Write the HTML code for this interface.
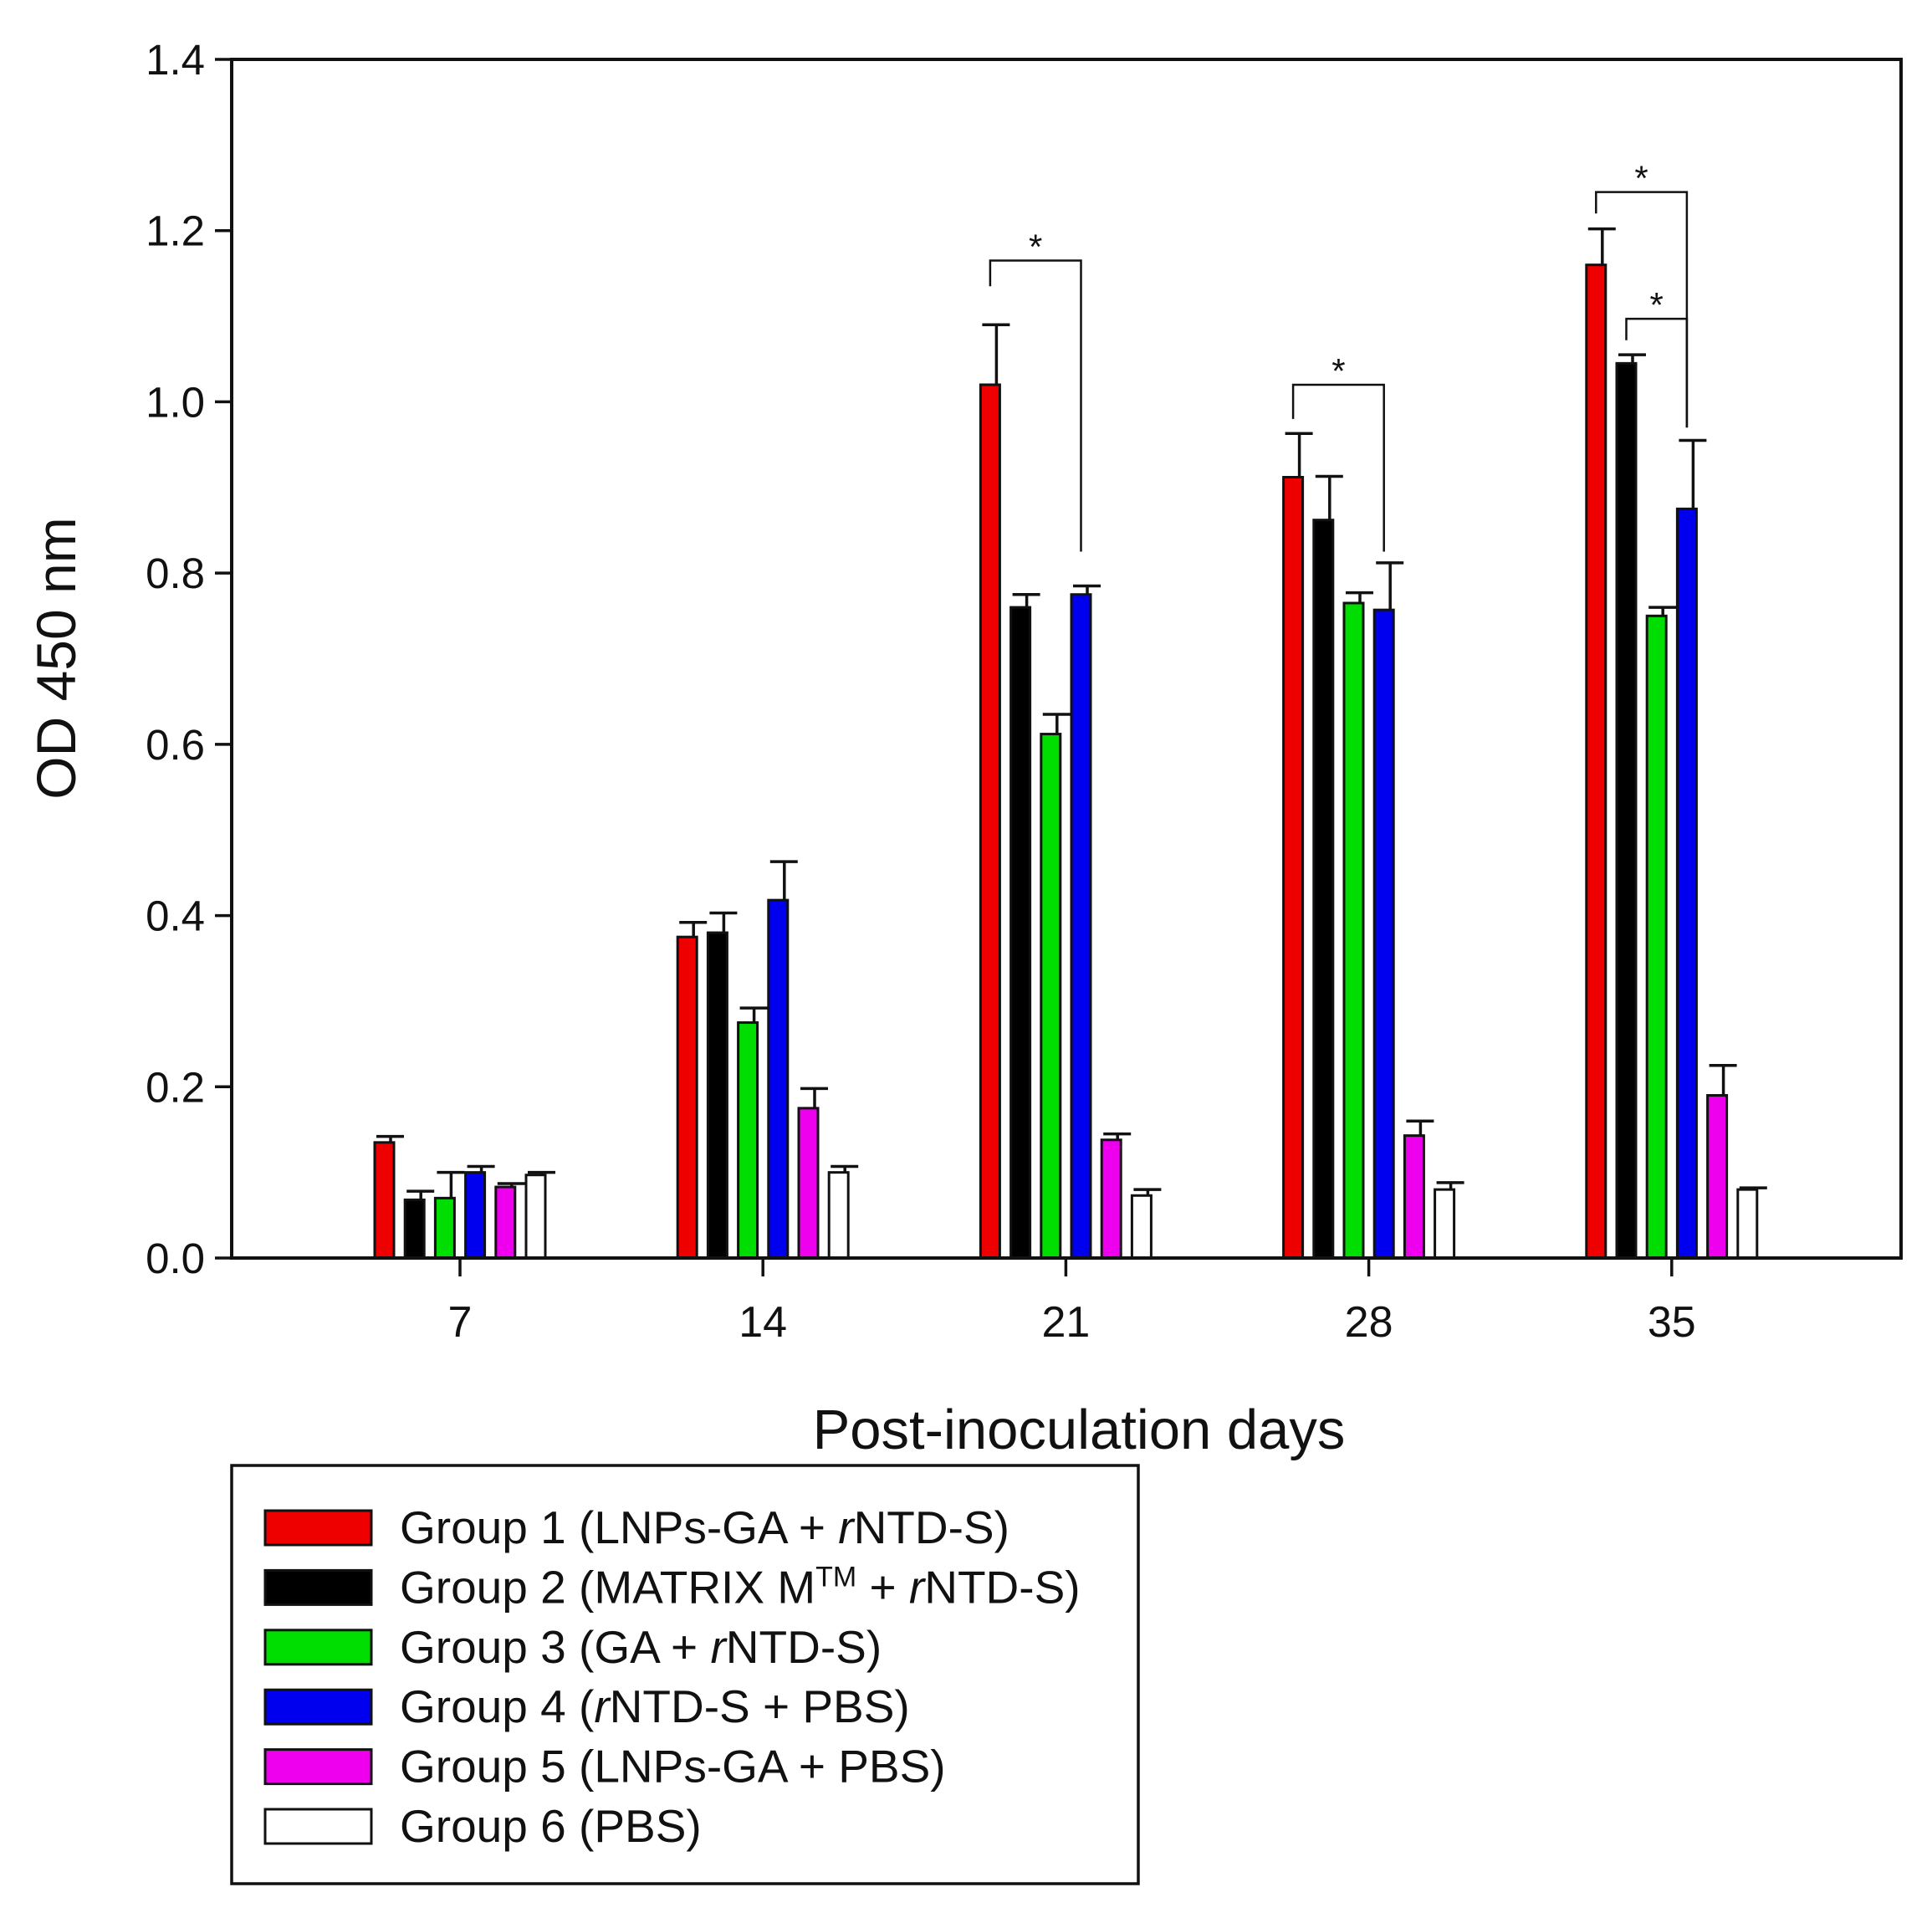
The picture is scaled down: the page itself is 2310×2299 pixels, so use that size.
<!DOCTYPE html>
<html><head><meta charset="utf-8">
<style>
html,body{margin:0;padding:0;background:#fff;}
svg{display:block;font-family:"Liberation Sans",Arial,sans-serif;}
</style></head>
<body>
<svg id="chart" width="2310" height="2299" viewBox="0 0 2310 2299" xmlns="http://www.w3.org/2000/svg">
<rect x="0" y="0" width="2310" height="2299" fill="#fff"/>
<g id="marks"></g>
<g id="axes"></g>
<text x="0" y="0" transform="translate(90,787) rotate(-90)" text-anchor="middle" font-size="66" fill="#111">OD 450 nm</text>
<text x="1290" y="1732" text-anchor="middle" font-size="67" fill="#111">Post-inoculation days</text>
<g>
<rect x="277" y="1752" width="1084" height="500" fill="#fff" stroke="#111" stroke-width="3.5"/>
<g id="legend-entries"></g>
</g>
</svg>
<script>
const categories = ["7","14","21","28","35"];
const seriesNames = ["Group 1 (LNPs-GA + rNTD-S)","Group 2 (MATRIX M + rNTD-S)","Group 3 (GA + rNTD-S)","Group 4 (rNTD-S + PBS)","Group 5 (LNPs-GA + PBS)","Group 6 (PBS)"];
const g1 = [0.135,0.375,1.02,0.912,1.16];
const g2 = [0.068,0.38,0.76,0.862,1.045];
const g3 = [0.07,0.275,0.612,0.765,0.75];
const g4 = [0.10,0.418,0.775,0.757,0.875];
const g5 = [0.083,0.175,0.138,0.143,0.19];
const g6 = [0.097,0.10,0.073,0.08,0.08];
const e1 = [0.007,0.017,0.07,0.051,0.042];
const e2 = [0.01,0.023,0.015,0.051,0.01];
const e3 = [0.03,0.017,0.023,0.012,0.01];
const e4 = [0.007,0.045,0.01,0.055,0.08];
const e5 = [0.004,0.023,0.007,0.017,0.035];
const e6 = [0.003,0.007,0.007,0.008,0.002];
const yTicks = [0,0.2,0.4,0.6,0.8,1.0,1.2,1.4];
const yTickLabels = ["0.0","0.2","0.4","0.6","0.8","1.0","1.2","1.4"];
// significance brackets
const sigCat = [2,3,4,4];
const sigFrom = [0,0,0,1];
const sigTo = [3,3,3,3];
const sigTop = [1.165,1.02,1.245,1.097];
const sigLeftBottom = [1.135,0.98,1.22,1.072];
const sigRightBottom = [0.825,0.825,0.97,0.97];

const NS="http://www.w3.org/2000/svg";
const L=277,R=2273,T=71,B=1504,YMAX=1.4;
const colors=["#ee0000","#000000","#00dd00","#0000ee","#ee00ee","#ffffff"];
const vals=[g1,g2,g3,g4,g5,g6], errs=[e1,e2,e3,e4,e5,e6];
function y(v){return B-(v/YMAX)*(B-T);}
function xc(i){return 550+i*362.2;}
function bx(i,s){return xc(i)+(s-2.5)*36.2;}
const BW=23;
function mk(tag,attrs,parent){const e=document.createElementNS(NS,tag);for(const k in attrs)e.setAttribute(k,attrs[k]);parent.appendChild(e);return e;}
const marks=document.getElementById('marks'), axes=document.getElementById('axes');

for(let s=0;s<6;s++){
  for(let i=0;i<categories.length;i++){
    const v=vals[s][i], cx=bx(i,s);
    const r=mk('rect',{x:cx-BW/2,y:y(v),width:BW,height:B-y(v),fill:colors[s],stroke:'#111','stroke-width':3},marks);
    
    
    const top=y(v+errs[s][i]);
    const el=mk('path',{d:`M${cx+BW/2-4} ${y(v)} V${top} M${cx-BW/2+2} ${top} H${cx+BW/2+12}`,stroke:'#111','stroke-width':3.5,fill:'none'},marks);
    
    
  }
}
for(let k=0;k<sigCat.length;k++){
  const x1=bx(sigCat[k],sigFrom[k]), x2=bx(sigCat[k],sigTo[k]);
  const p=mk('path',{d:`M${x1} ${y(sigLeftBottom[k])} V${y(sigTop[k])} H${x2} V${y(sigRightBottom[k])}`,stroke:'#111','stroke-width':2.5,fill:'none'},marks);
  
  
  const t=mk('text',{x:(x1+x2)/2,y:y(sigTop[k])-2,'text-anchor':'middle','font-size':42,fill:'#111'},marks);
  t.textContent='*';
  
  
}
const frame=mk('rect',{x:L,y:T,width:R-L,height:B-T,fill:'none',stroke:'#111','stroke-width':4},axes);


for(let j=0;j<yTicks.length;j++){
  const yy=y(yTicks[j]);
  const tk=mk('line',{x1:L-20,x2:L,y1:yy,y2:yy,stroke:'#111','stroke-width':3.5},axes);
  
  
  const tl=mk('text',{x:L-32,y:yy+18,'text-anchor':'end','font-size':51,fill:'#111'},axes);
  tl.textContent=yTickLabels[j];
  
  
}
for(let i=0;i<categories.length;i++){
  const tk=mk('line',{x1:xc(i),x2:xc(i),y1:B,y2:B+22,stroke:'#111','stroke-width':3.5},axes);
  
  
  const tl=mk('text',{x:xc(i),y:1598,'text-anchor':'middle','font-size':52,fill:'#111'},axes);
  tl.textContent=categories[i];
  
  
}
const lg=document.getElementById('legend-entries');
const legHTML=[
 'Group 1 (LNPs-GA + <tspan font-style="italic">r</tspan>NTD-S)',
 'Group 2 (MATRIX M<tspan font-size="34" dy="-20">TM</tspan><tspan dy="20"> + </tspan><tspan font-style="italic">r</tspan>NTD-S)',
 'Group 3 (GA + <tspan font-style="italic">r</tspan>NTD-S)',
 'Group 4 (<tspan font-style="italic">r</tspan>NTD-S + PBS)',
 'Group 5 (LNPs-GA + PBS)',
 'Group 6 (PBS)'];
for(let s=0;s<6;s++){
  const cy=1826+s*71.4;
  const sw=mk('rect',{x:317,y:cy-20,width:127,height:41,fill:colors[s],stroke:'#111','stroke-width':3},lg);
  
  
  const t=mk('text',{x:478,y:cy+19,'font-size':55,fill:'#111'},lg);
  t.innerHTML=legHTML[s];
  
  
}
</script>
</body></html>
